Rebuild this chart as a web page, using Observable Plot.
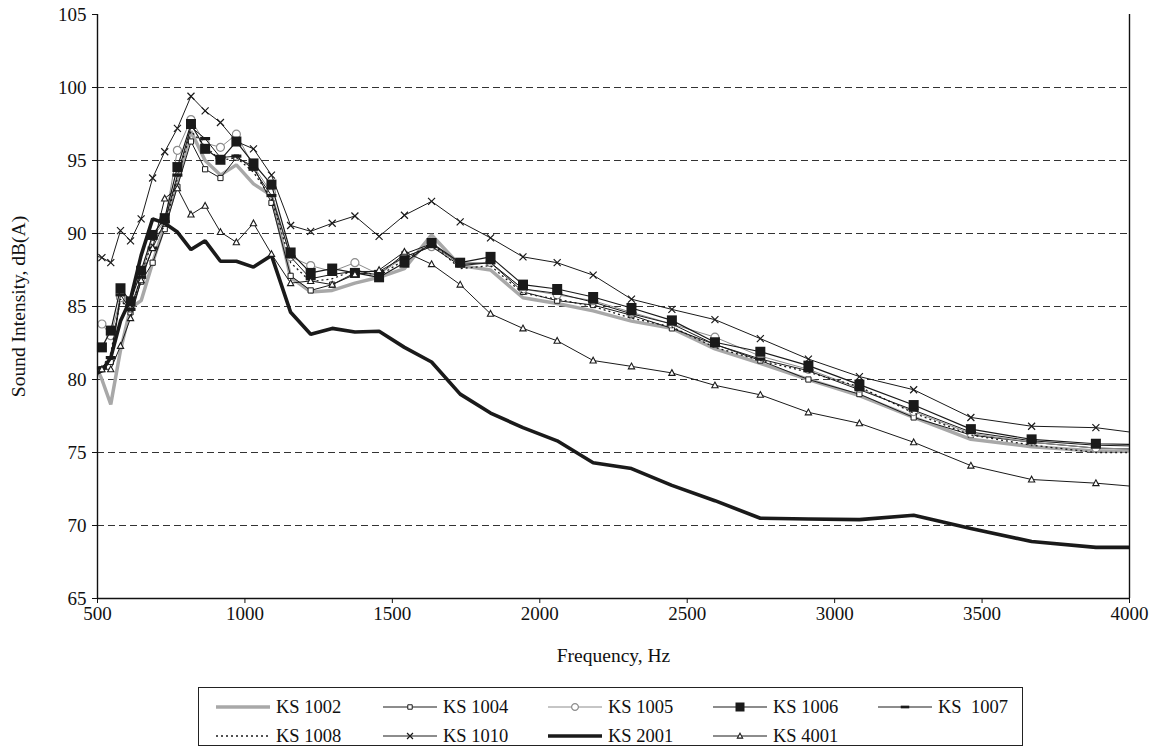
<!DOCTYPE html>
<html><head><meta charset="utf-8">
<script src="https://cdn.jsdelivr.net/npm/d3@7"></script>
<script src="https://cdn.jsdelivr.net/npm/@observablehq/plot@0.6"></script>
<style>
body{margin:0;background:#fff;font-family:"Liberation Serif","Times New Roman",serif;}
#wrap{position:relative;width:1154px;height:749px;background:#fff;}
#legend{position:absolute;left:198px;top:687px;width:825px;height:59px;box-sizing:border-box;border:1px solid #222;background:#fff;}
.item{position:absolute;display:flex;align-items:center;height:20px;font-size:18.5px;white-space:pre;color:#111;line-height:20px;}
.item svg{margin-right:6px;}
</style></head><body><div id="wrap"></div>
<script>
// 1/12-octave band centre frequencies (Hz); first and last lie just outside the axis
const freqs = [486, 515, 545, 578, 612, 648, 687, 728, 771, 817, 865, 917, 971, 1029, 1090, 1155, 1223, 1296, 1373, 1455, 1541, 1633, 1730, 1833, 1943, 2059, 2181, 2311, 2448, 2594, 2748, 2911, 3084, 3268, 3462, 3668, 3886, 4117];

const names = ["KS 1002", "KS 1004", "KS 1005", "KS 1006", "KS 1007", "KS 1008", "KS 1010", "KS 2001", "KS 4001"];
const legendLabels = ["KS 1002", "KS 1004", "KS 1005", "KS 1006", "KS  1007", "KS 1008", "KS 1010", "KS 2001", "KS 4001"];

const ks1002 = [81.3, 80.0, 78.3, 82.0, 84.9, 85.4, 88.0, 90.6, 93.5, 97.0, 95.0, 94.0, 94.7, 93.4, 92.6, 87.0, 86.0, 86.1, 86.6, 87.0, 87.6, 89.9, 87.8, 87.5, 85.6, 85.2, 84.7, 84.0, 83.5, 82.1, 81.1, 80.0, 78.9, 77.4, 75.9, 75.4, 75.1, 75.1];
const ks1004 = [80.4, 80.7, 81.2, 85.6, 84.6, 86.7, 88.0, 90.3, 93.2, 96.3, 94.4, 93.8, 95.2, 94.6, 92.1, 87.1, 86.1, 86.5, 87.3, 87.2, 88.6, 89.3, 87.9, 88.0, 86.0, 85.4, 85.1, 84.4, 83.5, 82.4, 81.3, 80.0, 79.0, 77.4, 76.2, 75.7, 75.3, 75.2];
const ks1005 = [83.8, 83.8, 83.0, 85.6, 85.0, 87.0, 89.8, 90.8, 95.7, 97.8, 96.2, 95.9, 96.8, 94.6, 92.8, 88.4, 87.8, 87.4, 88.0, 87.2, 88.4, 89.1, 88.0, 88.0, 86.2, 85.8, 85.4, 84.6, 83.8, 82.9, 81.6, 80.7, 79.4, 77.8, 76.3, 75.7, 75.3, 75.2];
const ks1006 = [81.8, 82.2, 83.35, 86.25, 85.35, 87.45, 89.9, 91.05, 94.55, 97.5, 95.8, 95.05, 96.3, 94.8, 93.35, 88.7, 87.3, 87.6, 87.3, 87.0, 88.0, 89.35, 88.0, 88.4, 86.5, 86.2, 85.65, 84.9, 84.05, 82.55, 81.9, 80.95, 79.65, 78.25, 76.6, 75.9, 75.6, 75.5];
const ks1007 = [80.6, 80.8, 81.5, 85.8, 84.8, 87.0, 89.0, 90.8, 94.0, 97.3, 96.5, 95.2, 95.3, 94.4, 92.6, 88.4, 86.9, 87.2, 87.4, 87.4, 88.4, 89.1, 87.8, 88.0, 86.2, 85.9, 85.3, 84.5, 83.8, 82.4, 81.4, 80.6, 79.3, 77.9, 76.4, 75.8, 75.5, 75.4];
const ks1008 = [80.6, 80.8, 81.8, 85.5, 84.5, 87.2, 89.5, 90.5, 93.8, 97.0, 96.0, 95.0, 95.2, 94.2, 92.4, 88.0, 86.7, 86.9, 87.5, 87.1, 88.2, 89.3, 87.6, 87.8, 85.9, 85.5, 85.0, 84.2, 83.6, 82.2, 81.3, 80.5, 79.5, 77.7, 76.2, 75.5, 75.0, 75.0];
const ks1010 = [88.5, 88.35, 88.0, 90.2, 89.5, 91.0, 93.8, 95.6, 97.2, 99.4, 98.4, 97.6, 96.3, 95.8, 94.0, 90.55, 90.15, 90.7, 91.2, 89.8, 91.25, 92.2, 90.8, 89.7, 88.4, 88.0, 87.15, 85.5, 84.8, 84.1, 82.8, 81.4, 80.2, 79.3, 77.4, 76.8, 76.7, 76.1];
const ks2001 = [80.3, 80.6, 81.5, 84.0, 85.5, 88.5, 91.0, 90.7, 90.1, 88.9, 89.5, 88.1, 88.1, 87.7, 88.5, 84.6, 83.1, 83.5, 83.25, 83.3, 82.2, 81.2, 79.0, 77.7, 76.7, 75.8, 74.3, 73.9, 72.75, 71.7, 70.5, 70.45, 70.4, 70.7, 69.8, 68.9, 68.5, 68.5];
const ks4001 = [80.3, 80.7, 80.7, 82.3, 84.2, 86.8, 89.0, 92.4, 93.1, 91.3, 91.9, 90.1, 89.4, 90.7, 88.6, 86.6, 86.75, 86.5, 87.2, 87.5, 88.75, 87.9, 86.5, 84.5, 83.5, 82.65, 81.3, 80.9, 80.45, 79.6, 78.95, 77.75, 77.0, 75.7, 74.1, 73.15, 72.9, 72.5];

const seriesValues = [ks1002, ks1004, ks1005, ks1006, ks1007, ks1008, ks1010, ks2001, ks4001];

const xTicks = [500, 1000, 1500, 2000, 2500, 3000, 3500, 4000];
const yTicks = [65, 70, 75, 80, 85, 90, 95, 100, 105];
const gridValues = [70, 75, 80, 85, 90, 95, 100];
const xLabel = "Frequency, Hz";
const yLabel = "Sound Intensity, dB(A)";

// ---- marker shapes (Plot size = PI r^2) ----
function sym(fn) { return {draw(ctx, size) { fn(ctx, Math.sqrt(size / Math.PI)); }}; }
const SQUARE = sym((c, r) => { c.rect(-r, -r, 2 * r, 2 * r); });
const CIRCLE = sym((c, r) => { c.moveTo(r, 0); c.arc(0, 0, r, 0, 2 * Math.PI); });
const TIMES = sym((c, r) => { c.moveTo(-r, -r); c.lineTo(r, r); c.moveTo(-r, r); c.lineTo(r, -r); });
const TRIANGLE = sym((c, r) => { c.moveTo(0, -r); c.lineTo(r * 0.95, r * 0.75); c.lineTo(-r * 0.95, r * 0.75); c.closePath(); });
const DASH = sym((c, r) => { c.rect(-r, -r * 0.32, 2 * r, r * 0.64); });

const ink = "#1a1a1a";
const styles = {
  "KS 1002": {stroke: "#a8a8a8", width: 3.5},
  "KS 1004": {stroke: ink, width: 1, symbol: SQUARE, r: 2.6, fill: "white", mstroke: ink, mwidth: 1},
  "KS 1005": {stroke: "#8c8c8c", width: 1, symbol: CIRCLE, r: 4, fill: "white", mstroke: "#8c8c8c", mwidth: 1.2},
  "KS 1006": {stroke: ink, width: 1.2, symbol: SQUARE, r: 5, fill: ink, mstroke: ink, mwidth: 0},
  "KS 1007": {stroke: ink, width: 1, symbol: DASH, r: 5, fill: ink, mstroke: ink, mwidth: 0},
  "KS 1008": {stroke: ink, width: 1.3, dash: "2,3"},
  "KS 1010": {stroke: ink, width: 1, symbol: TIMES, r: 3.5, fill: "none", mstroke: ink, mwidth: 1.2},
  "KS 2001": {stroke: ink, width: 3.6},
  "KS 4001": {stroke: ink, width: 1, symbol: TRIANGLE, r: 3.3, fill: "white", mstroke: ink, mwidth: 1.1}
};

const rows = names.flatMap((name, i) => freqs.map((f, j) => ({name, f, v: seriesValues[i][j]})));

const marks = [
  Plot.ruleY(gridValues, {stroke: "#333", strokeWidth: 1, strokeDasharray: "7,4"}),
];
for (const name of names) {
  const s = styles[name];
  const data = rows.filter(d => d.name === name);
  marks.push(Plot.line(data, {x: "f", y: "v", stroke: s.stroke, strokeWidth: s.width, strokeDasharray: s.dash, clip: true, strokeLinejoin: "miter", strokeLinecap: "butt"}));
  if (s.symbol) {
    marks.push(Plot.dot(data.filter(d => d.f >= 500 && d.f <= 4000), {x: "f", y: "v", symbol: s.symbol, r: s.r, fill: s.fill, stroke: s.mstroke, strokeWidth: s.mwidth}));
  }
}
marks.push(
  Plot.ruleX([500], {stroke: "#111", strokeWidth: 1.4}),
  Plot.ruleX([4000], {stroke: "#111", strokeWidth: 1.4}),
  Plot.ruleY([65], {stroke: "#111", strokeWidth: 1.4}),
  Plot.text([yLabel], {frameAnchor: "left", dx: -79, rotate: -90, textAnchor: "middle", fontSize: 19.5, fill: "#111"}),
  Plot.text([xLabel], {frameAnchor: "bottom", dy: 63, textAnchor: "middle", fontSize: 19.5, fill: "#111"})
);

const chart = Plot.plot({
  width: 1154,
  height: 680,
  marginLeft: 97,
  marginRight: 25,
  marginTop: 14,
  marginBottom: 82,
  style: {fontFamily: "'Liberation Serif', 'Times New Roman', serif", fontSize: "19px", background: "white", color: "#111", overflow: "visible"},
  x: {type: "linear", domain: [500, 4000], ticks: xTicks, tickSize: 5, tickPadding: 3, tickFormat: d => String(d), label: null},
  y: {domain: [65, 105], ticks: yTicks, tickSize: 5, tickPadding: 6, tickFormat: d => String(d), label: null},
  marks
});

const wrap = document.getElementById("wrap");
wrap.appendChild(chart);

// ---- legend ----
const legend = document.createElement("div");
legend.id = "legend";
wrap.appendChild(legend);
const colLeft = [17, 184, 349, 514, 679];
const rowMid = [18.5, 47.5];
names.forEach((name, i) => {
  const s = styles[name];
  const col = i % 5, row = Math.floor(i / 5);
  const item = document.createElement("div");
  item.className = "item";
  item.style.left = colLeft[col] + "px";
  item.style.top = (rowMid[row] - 10) + "px";
  const svg = d3.create("svg").attr("width", 54).attr("height", 16);
  svg.append("line").attr("x1", 0).attr("x2", 54).attr("y1", 8).attr("y2", 8)
    .attr("stroke", s.stroke).attr("stroke-width", s.width).attr("stroke-dasharray", s.dash || null);
  if (s.symbol) {
    const r = s.symbol === SQUARE && s.r > 4 ? 4.5 : s.r * 0.85;
    svg.append("path").attr("transform", "translate(27,8)")
      .attr("d", d3.symbol(s.symbol, Math.PI * r * r)())
      .attr("fill", s.fill).attr("stroke", s.mstroke).attr("stroke-width", s.mwidth);
  }
  item.appendChild(svg.node());
  const t = document.createElement("span");
  t.textContent = legendLabels[i];
  item.appendChild(t);
  legend.appendChild(item);
});
</script></body></html>
